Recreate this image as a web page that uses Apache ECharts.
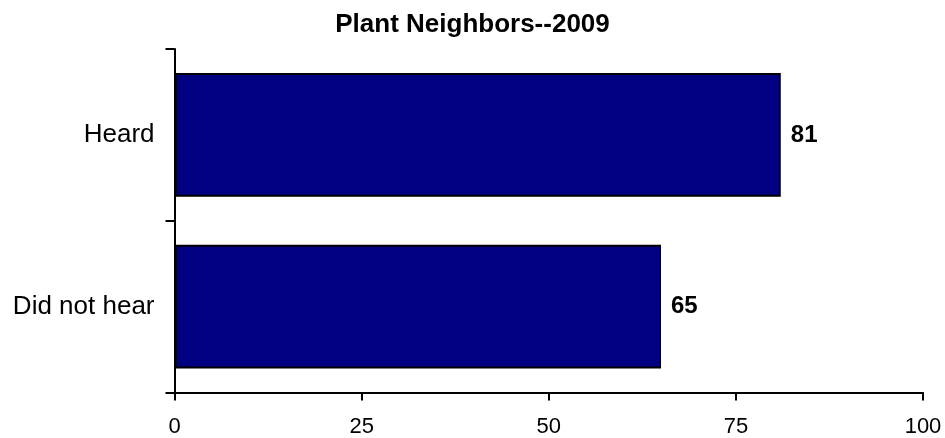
<!DOCTYPE html>
<html>
<head>
<meta charset="utf-8">
<script src="https://cdn.jsdelivr.net/npm/echarts@6/dist/echarts.min.js"></script>
<style>html,body{margin:0;padding:0;background:#fff}#c{width:945px;height:438px}</style>
</head>
<body>
<div id="c"></div>
<script>
var titleText = "Plant Neighbors--2009";
var categories = ["Heard", "Did not hear"];
var values = [81, 65];
var xTicks = [0, 25, 50, 75, 100];

var chart = echarts.init(document.getElementById('c'), null, {renderer: 'canvas'});
var font = 'Liberation Sans, Arial, sans-serif';
chart.setOption({
  animation: false,
  backgroundColor: '#ffffff',
  title: {
    text: titleText,
    left: 'center',
    top: 7,
    textStyle: {fontFamily: font, fontSize: 26, fontWeight: 'bold', color: '#000'}
  },
  grid: {left: 174.5, right: 22, top: 49, bottom: 45.5, containLabel: false},
  xAxis: {
    type: 'value',
    min: xTicks[0],
    max: xTicks[xTicks.length - 1],
    interval: xTicks[1] - xTicks[0],
    splitLine: {show: false},
    axisLine: {show: true, lineStyle: {color: '#000', width: 2}},
    axisTick: {show: true, length: 8, lineStyle: {color: '#000', width: 2}},
    axisLabel: {fontFamily: font, fontSize: 22, color: '#000', margin: 23}
  },
  yAxis: {
    type: 'category',
    data: categories,
    inverse: true,
    axisLine: {show: true, lineStyle: {color: '#000', width: 2}},
    axisTick: {show: true, length: 9, lineStyle: {color: '#000', width: 2}},
    axisLabel: {fontFamily: font, fontSize: 26, color: '#000', margin: 20}
  },
  series: [{
    type: 'bar',
    data: values,
    barCategoryGap: '28%',
    itemStyle: {color: '#000080', borderColor: '#000', borderWidth: 2},
    label: {
      show: true,
      position: 'right',
      distance: 10,
      fontFamily: font,
      fontSize: 24,
      fontWeight: 'bold',
      color: '#000'
    }
  }]
});
</script>
</body>
</html>
